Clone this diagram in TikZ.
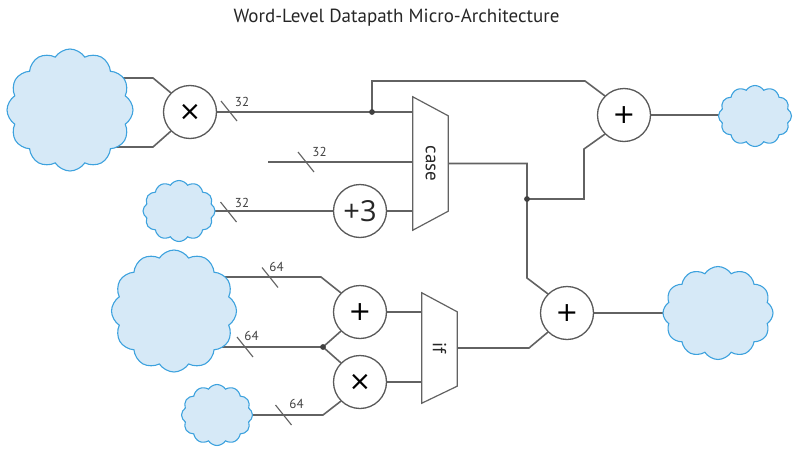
\documentclass[tikz,border=0pt]{standalone}
\usepackage{fontspec}
\setmainfont{PT Sans}
\newfontfamily\opfont{DejaVu Sans}
\newfontfamily\numfont{Open Sans}
\usetikzlibrary{shapes.symbols,backgrounds}
\definecolor{wiregray}{HTML}{626262}
\definecolor{opgray}{HTML}{5A5A5A}
\definecolor{cloudfill}{HTML}{D6E9F7}
\definecolor{cloudline}{HTML}{3DA2DE}
\tikzset{
    wire/.style = {draw=wiregray, line width=1.6pt},
    op/.style = {circle, draw=opgray, fill=white, line width=1.3pt, minimum size=53pt, inner sep=0pt, font=\opfont\fontsize{27}{27}\selectfont},
    blob/.style = {cloud, cloud puffs=12, cloud puff arc=115, draw=cloudline, fill=cloudfill, line width=1.1pt, inner sep=0pt},
    muxbox/.style = {inner sep=0pt, minimum width=35pt, text=black!85, font=\fontsize{19}{19}\selectfont},
    buslabel/.style = {inner sep=0pt, text=black!75, font=\fontsize{13}{13}\selectfont},
    joint/.style = {fill=black!75}
}
\begin{document}
\begin{tikzpicture}[x=1pt,y=-1pt]
            \useasboundingbox (0,0) rectangle (793,450);
            \node[font=\fontsize{19}{19}\selectfont, text=black!85] (title) at (396.5,18) {Word-Level Datapath Micro-Architecture};
            \node[blob, minimum width=126pt, minimum height=122pt] (c1) at (70,110) {};
            \node[blob, minimum width=72pt, minimum height=61pt] (c2) at (179,211) {};
            \node[blob, minimum width=125pt, minimum height=122pt] (c3) at (174,311) {};
            \node[blob, minimum width=71pt, minimum height=61pt] (c4) at (217,415) {};
            \node[blob, minimum width=73pt, minimum height=61pt] (c5) at (755,116) {};
            \node[blob, minimum width=110pt, minimum height=93pt] (c6) at (718,313) {};
            \node[op] (m1) at (190,112) {×};
            \node[op, font=\numfont\fontsize{29}{29}\selectfont, text=black!85] (p3) at (360,211) {+3};
            \node[op] (a1) at (624,115) {+};
            \node[op] (a2) at (567,313) {+};
            \node[op] (a3) at (360,312) {+};
            \node[op] (m2) at (360,382) {×};
            \node[muxbox, minimum height=133pt] (mc) at (430.5,163.5) {\rotatebox{-90}{case}};
            \node[muxbox, minimum height=110pt] (mi) at (439.5,348) {\rotatebox{-90}{if}};
            \draw[wire, line width=1.2pt] (mc.north west) -- ([yshift=-19pt]mc.north east) -- ([yshift=19pt]mc.south east) -- (mc.south west) -- cycle;
            \draw[wire, line width=1.2pt] (mi.north west) -- ([yshift=-19pt]mi.north east) -- ([yshift=17pt]mi.south east) -- (mi.south west) -- cycle;
            \coordinate (j1) at (372,112);
            \coordinate (j2) at (527,199);
            \coordinate (j3) at (323,347);
            \coordinate (in2) at (268,162);
            \begin{scope}[on background layer]
            \draw[wire] (c1.center) ++(0,-32) -- (153,78) -- (m1.135);
            \draw[wire] (c1.center) ++(0,37) -- (153,147) -- (m1.225);
            \draw[wire] (m1.east) -- (m1.east -| mc.west);
            \draw[wire] (j1) -- (372,81) -- (585,81) -- (a1.135);
            \draw[wire] (in2) -- (in2 -| mc.west);
            \draw[wire] (c2.center) -- (p3.west);
            \draw[wire] (p3.east) -- (p3.east -| mc.west);
            \draw[wire] (mc.east) -| (j2) -- (527,278) -- (a2.135);
            \draw[wire] (j2) -- (584,199) -- (584,149) -- (a1.225);
            \draw[wire] (a1.east) -- (c5.center |- a1.east);
            \draw[wire] (a2.east) -- (c6.center);
            \draw[wire] (c3.center) ++(0,-34) -- (321,277) -- (a3.135);
            \draw[wire] (c3.center) ++(0,36) -- (j3);
            \draw[wire] (j3) -- (a3.225);
            \draw[wire] (j3) -- (m2.135);
            \draw[wire] (c4.center) -- (323,415) -- (m2.225);
            \draw[wire] (a3.east) -- (a3.east -| mi.west);
            \draw[wire] (m2.east) -- (m2.east -| mi.west);
            \draw[wire] (mi.east) -- (529,348) -- (a2.225);
            \end{scope}
            \foreach \j in {j1,j2,j3}
                \fill[joint] (\j) circle (2.9pt);
            \foreach \x/\y/\lx/\ly/\w [count=\i] in {229/111/242/102/32, 306/162/319.5/152/32, 228.5/212/242/202.5/32, 270/277.5/276.5/267/64, 245/347/251.5/335.5/64, 283.5/415/296.5/404/64}{
                \draw[wire, line width=1.1pt] (\x-8,\y-10) -- (\x+8,\y+10);
                \node[buslabel] (bw\i) at (\lx,\ly) {\w};
            }
\end{tikzpicture}
\end{document}
